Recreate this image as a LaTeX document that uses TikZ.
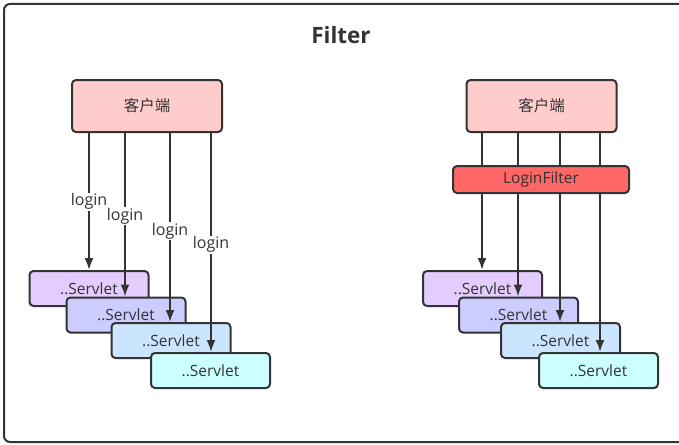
\documentclass[tikz,border=0pt]{standalone}
\usepackage{fontspec}
\setmainfont{Open Sans}
\newfontfamily\cjk{Noto Sans CJK SC}
\usetikzlibrary{arrows.meta}
\definecolor{ink}{HTML}{333333}
\definecolor{clientc}{HTML}{FFCCCC}
\definecolor{filterc}{HTML}{FF6666}
\definecolor{servA}{HTML}{E5CCFF}
\definecolor{servB}{HTML}{CCCCFF}
\definecolor{servC}{HTML}{CCE5FF}
\definecolor{servD}{HTML}{CCFFFF}
\tikzset{
  box/.style={draw=ink,line width=2pt,rounded corners=4pt,text=ink,inner sep=0pt},
  client/.style={box,fill=clientc,minimum width=150pt,minimum height=52pt,font=\cjk\fontsize{15.5}{18}\selectfont},
  servlet/.style={box,minimum width=119pt,minimum height=35pt,font=\fontsize{15.5}{18}\selectfont},
  lfilter/.style={box,fill=filterc,minimum width=176pt,minimum height=27pt,font=\fontsize{15.5}{18}\selectfont},
  flow/.style={draw=ink,line width=2pt},
  req/.style={flow,-{Latex[length=12pt,width=9pt]}},
  lbl/.style={fill=white,text=ink,inner sep=1pt,font=\fontsize{16}{18}\selectfont}
}
\begin{document}
\begin{tikzpicture}[x=1pt,y=-1pt]
\useasboundingbox (0,0) rectangle (679,444);
\clip (0,0) rectangle (679,444);
\draw[draw=ink,line width=2pt,rounded corners=6pt] (4,4) rectangle (690,442);
\node[text=ink,font=\bfseries\fontsize{22.5}{26}\selectfont] (title) at (341,35) {Filter};

% left: every servlet checks login itself
\node[client] (cl) at (147,106) {客户端};
\node[servlet,fill=servA] (sa) at (89,288.5) {..Servlet};
\node[servlet,fill=servB] (sb) at (126,315) {..Servlet};
\node[servlet,fill=servC] (sc) at (171,340.5) {..Servlet};
\node[servlet,fill=servD] (sd) at (210.5,370.5) {..Servlet};
\draw[req] (cl.south -| 89,0) -- node[lbl]{login} (sa.north -| 89,0);
\draw[req] (cl.south -| 125,0) -- node[lbl,pos=0.51]{login} (sb.north -| 125,0);
\draw[req] (cl.south -| 170,0) -- node[lbl,pos=0.52]{login} (sc.north -| 170,0);
\draw[req] (cl.south -| 211,0) -- node[lbl,pos=0.51]{login} (sd.north -| 211,0);

% right: one filter in front of all servlets
\node[client] (cr) at (541.5,106) {客户端};
\node[lfilter] (lf) at (541,179.5) {LoginFilter};
\node[servlet,fill=servA] (ra) at (482.5,288.5) {..Servlet};
\node[servlet,fill=servB] (rb) at (518.5,315) {..Servlet};
\node[servlet,fill=servC] (rc) at (560.5,340.5) {..Servlet};
\node[servlet,fill=servD] (rd) at (598.5,370.5) {..Servlet};
\foreach \xx in {482,518,560,600}
  \draw[flow] (cr.south -| \xx,0) -- (lf.north -| \xx,0);
\draw[req] (lf.south -| 482,0) -- (ra.north -| 482,0);
\draw[req] (lf.south -| 518,0) -- (rb.north -| 518,0);
\draw[req] (lf.south -| 560,0) -- (rc.north -| 560,0);
\draw[req] (lf.south -| 600,0) -- (rd.north -| 600,0);
\end{tikzpicture}
\end{document}
